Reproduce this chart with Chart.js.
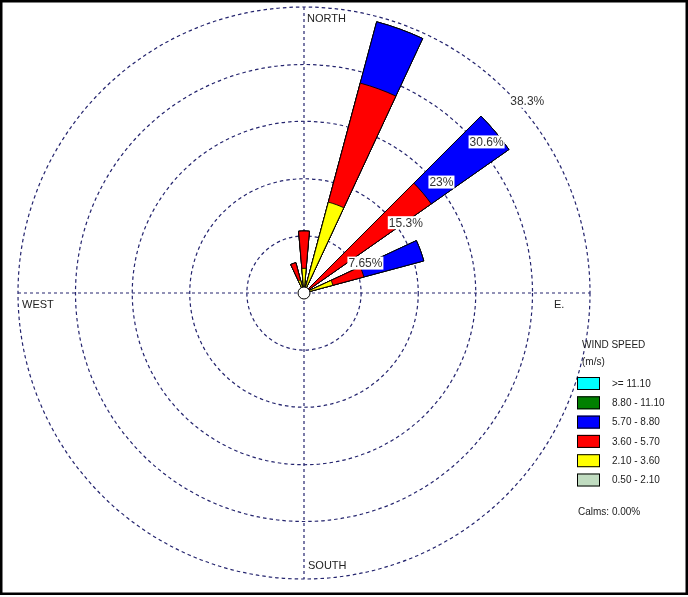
<!DOCTYPE html>
<html>
<head>
<meta charset="utf-8">
<script src="https://cdn.jsdelivr.net/npm/chart.js@4.4.1/dist/chart.umd.min.js"></script>
<style>
  body { margin: 0; background: #fff; }
  #wrap { width: 688px; height: 597px; }
</style>
</head>
<body>
<div id="wrap"><canvas id="myChart" width="688" height="597"></canvas></div>
<script>
// 36 directions, 10 deg each (0 = north, clockwise)
var directions = [];
for (let d = 0; d < 360; d += 10) directions.push(d);

// frequency (%) per speed class, one value per direction
//                0    10   20    30  40  50    60  70   80 ...                                                               340  350
var calm_0_5 = [0,   0,   0,    0,  0,  0,    0,  0,   0, 0, 0, 0, 0, 0, 0, 0, 0, 0, 0, 0, 0, 0, 0, 0, 0, 0, 0, 0, 0, 0, 0, 0, 0, 0, 0,   0];
var spd_2_1  = [3.3, 0,   12.6, 0,  0,  0.7,  0,  4.0, 0, 0, 0, 0, 0, 0, 0, 0, 0, 0, 0, 0, 0, 0, 0, 0, 0, 0, 0, 0, 0, 0, 0, 0, 0, 0, 1.8, 0];
var spd_3_6  = [5.0, 0,   16.5, 0,  0,  20.1, 0,  4.3, 0, 0, 0, 0, 0, 0, 0, 0, 0, 0, 0, 0, 0, 0, 0, 0, 0, 0, 0, 0, 0, 0, 0, 0, 0, 0, 2.4, 0];
var spd_5_7  = [0,   0,   8.5,  0,  0,  12.7, 0,  8.3, 0, 0, 0, 0, 0, 0, 0, 0, 0, 0, 0, 0, 0, 0, 0, 0, 0, 0, 0, 0, 0, 0, 0, 0, 0, 0, 0,   0];
var spd_8_8  = [0,   0,   0,    0,  0,  0,    0,  0,   0, 0, 0, 0, 0, 0, 0, 0, 0, 0, 0, 0, 0, 0, 0, 0, 0, 0, 0, 0, 0, 0, 0, 0, 0, 0, 0,   0];
var spd_11_1 = [0,   0,   0,    0,  0,  0,    0,  0,   0, 0, 0, 0, 0, 0, 0, 0, 0, 0, 0, 0, 0, 0, 0, 0, 0, 0, 0, 0, 0, 0, 0, 0, 0, 0, 0,   0];

var classLabels = ['0.50 - 2.10', '2.10 - 3.60', '3.60 - 5.70', '5.70 - 8.80', '8.80 - 11.10', '>= 11.10'];
var classColors = ['#c0dcc0', '#ffff00', '#ff0000', '#0000ff', '#008000', '#00ffff'];
var classSeries = [calm_0_5, spd_2_1, spd_3_6, spd_5_7, spd_8_8, spd_11_1];

var ringValues = [7.65, 15.3, 23, 30.6, 38.3];
var ringLabels = ['7.65%', '15.3%', '23%', '30.6%', '38.3%'];
var compassLabels = ['NORTH', 'E.', 'SOUTH', 'WEST'];
var calmsText = 'Calms: 0.00%';

var gridColor = '#24246e';
var txtFont = '"Liberation Sans", Arial, sans-serif';

// stack the classes: each dataset is the running total, smallest on top
function build_datasets() {
    let sets = [];
    let run = directions.map(() => 0);
    for (let c = 0; c < classSeries.length; c++) {
        run = run.map((v, i) => v + classSeries[c][i]);
        sets.push({
            label: classLabels[c],
            data: run.slice(),
            backgroundColor: classColors[c],
            borderColor: '#000',
            borderWidth: 0.9
        });
    }
    return sets;
}

var roseExtras = {
    id: 'roseExtras',
    beforeDraw(chart) {
        let ctx = chart.ctx;
        ctx.save();
        ctx.fillStyle = '#fff';
        ctx.fillRect(0, 0, chart.width, chart.height);
        ctx.strokeStyle = '#000';
        ctx.lineWidth = 2.5;
        ctx.strokeRect(1.25, 1.25, chart.width - 2.5, 592.5);
        ctx.restore();
    },
    beforeDatasetsDraw(chart) {
        let s = chart.scales.r;
        let ctx = chart.ctx;
        let cx = s.xCenter, cy = s.yCenter, R = s.getDistanceFromCenterForValue(s.max);
        ctx.save();
        // cross axes
        ctx.strokeStyle = gridColor;
        ctx.lineWidth = 1.2;
        ctx.setLineDash([3, 3]);
        ctx.beginPath();
        ctx.moveTo(cx, cy - R); ctx.lineTo(cx, cy + R);
        ctx.moveTo(cx - R, cy); ctx.lineTo(cx + R, cy);
        ctx.stroke();
        ctx.setLineDash([]);
        // compass words
        ctx.fillStyle = '#222';
        ctx.font = '11px ' + txtFont;
        ctx.textBaseline = 'top';
        ctx.textAlign = 'left';
        ctx.fillText(compassLabels[0], cx + 3, cy - R + 6);
        ctx.fillText(compassLabels[1], cx + R - 36, cy + 6);
        ctx.fillText(compassLabels[2], cx + 4, cy + R - 19);
        ctx.fillText(compassLabels[3], cx - R + 4, cy + 6);
        ctx.restore();
    },
    afterDatasetsDraw(chart) {
        let s = chart.scales.r;
        let ctx = chart.ctx;
        let cx = s.xCenter, cy = s.yCenter;
        ctx.save();
        // calm circle
        ctx.beginPath();
        ctx.arc(cx, cy, 6, 0, Math.PI * 2);
        ctx.fillStyle = '#fff';
        ctx.fill();
        ctx.strokeStyle = '#000';
        ctx.lineWidth = 1;
        ctx.stroke();
        // ring labels along 45 deg
        ctx.font = '12px ' + txtFont;
        ctx.textBaseline = 'top';
        ctx.textAlign = 'left';
        for (let i = 0; i < ringValues.length; i++) {
            let r = s.getDistanceFromCenterForValue(ringValues[i]);
            let x = cx + r * Math.SQRT1_2 + 4;
            let y = cy - r * Math.SQRT1_2 + 5;
            let w = ctx.measureText(ringLabels[i]).width;
            ctx.fillStyle = '#fff';
            ctx.fillRect(x - 1, y - 1, w + 2, 13);
            ctx.fillStyle = '#333';
            ctx.fillText(ringLabels[i], x, y);
        }
        // legend
        ctx.fillStyle = '#222';
        ctx.font = '10px ' + txtFont;
        ctx.textBaseline = 'middle';
        ctx.fillText('WIND SPEED', 582, 345);
        ctx.fillText('(m/s)', 582, 362);
        for (let k = 0; k < classLabels.length; k++) {
            let c = classLabels.length - 1 - k;
            let y = 377 + k * 19.3;
            ctx.fillStyle = classColors[c];
            ctx.fillRect(577, y, 23, 13);
            ctx.strokeStyle = '#000';
            ctx.lineWidth = 1;
            ctx.strokeRect(577.5, y + 0.5, 22, 12);
            ctx.fillStyle = '#222';
            ctx.fillText(classLabels[c], 612, y + 7);
        }
        ctx.fillText(calmsText, 578, 512);
        ctx.restore();
    }
};

var ctx = document.getElementById('myChart');
var chart = new Chart(ctx, {
    type: 'polarArea',
    data: {
        labels: directions.map(d => d + '°'),
        datasets: build_datasets()
    },
    options: {
        responsive: false,
        animation: false,
        layout: { padding: { left: 18, right: 97, top: 7, bottom: 17 } },
        scales: {
            r: {
                min: 0,
                max: ringValues[ringValues.length - 1],
                startAngle: -5,
                afterBuildTicks: function (scale) {
                    scale.ticks = [0].concat(ringValues).map(v => ({ value: v }));
                },
                ticks: { display: false },
                pointLabels: { display: false },
                angleLines: { display: false },
                grid: { circular: true, color: gridColor, lineWidth: 1.2 },
                border: { dash: [3.5, 3] }
            }
        },
        plugins: {
            legend: { display: false },
            tooltip: { enabled: false }
        }
    },
    plugins: [roseExtras]
});
</script>
</body>
</html>
